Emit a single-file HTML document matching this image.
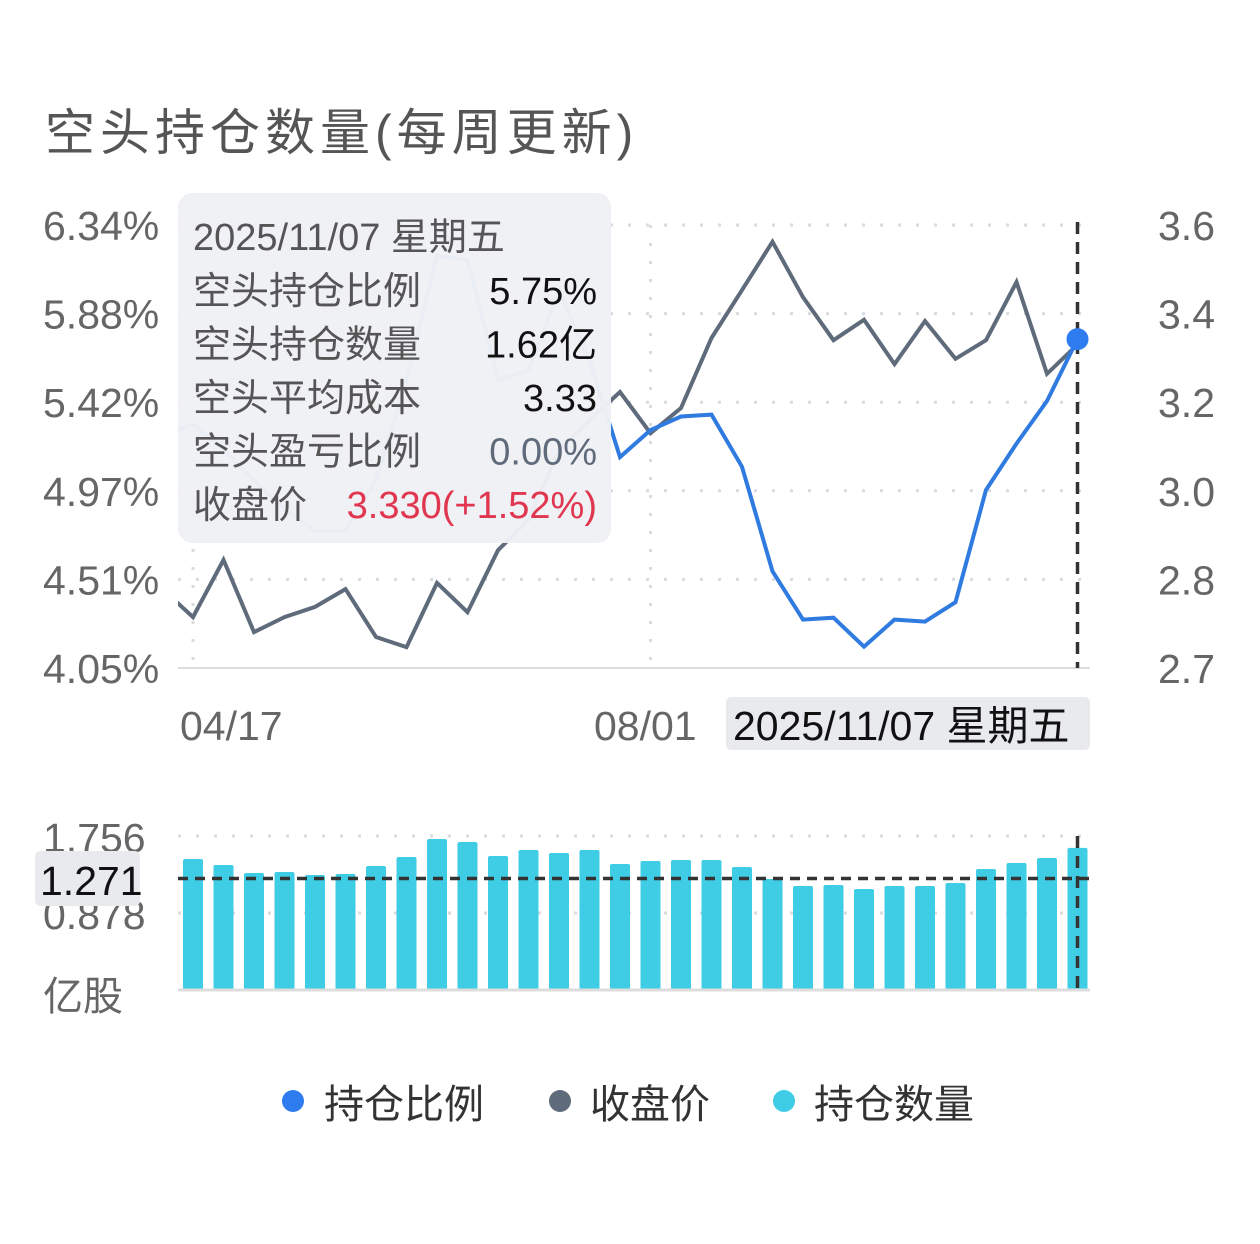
<!DOCTYPE html>
<html><head><meta charset="utf-8">
<style>
body{margin:0;background:#fff;width:1260px;height:1239px;overflow:hidden;font-family:"Liberation Sans","Noto Sans CJK SC",sans-serif;}
svg text{font-family:"Liberation Sans","Noto Sans CJK SC",sans-serif;}
</style></head>
<body>
<svg id="chart" width="1260" height="1239" xmlns="http://www.w3.org/2000/svg">
<text x="45" y="150" font-size="50" fill="#555" letter-spacing="5">空头持仓数量(每周更新)</text>
<g id="main"></g>
<g id="bars"></g>
<g>
  <circle cx="293" cy="1101" r="11" fill="#2f7bf0"/>
  <text x="324" y="1118" font-size="40" fill="#333">持仓比例</text>
  <circle cx="560" cy="1101" r="11" fill="#5f6b7a"/>
  <text x="590" y="1118" font-size="40" fill="#333">收盘价</text>
  <circle cx="784" cy="1101" r="11" fill="#3fcde6"/>
  <text x="814" y="1118" font-size="40" fill="#333">持仓数量</text>
</g>
</svg>
<script>
// data (first point index -1 is clipped at plot left edge)
const ratioValues=[5.25,5.31,5.18,5.02,4.87,4.76,4.76,5.02,5.54,6.18,6.16,5.54,5.59,6.00,5.64,5.14,5.28,5.35,5.36,5.09,4.55,4.30,4.31,4.16,4.30,4.29,4.39,4.97,5.21,5.43,5.75];
const priceValues=[2.778,2.715,2.844,2.681,2.715,2.738,2.778,2.670,2.647,2.792,2.726,2.866,2.934,3.092,3.160,3.223,3.130,3.187,3.345,3.453,3.562,3.437,3.340,3.386,3.286,3.383,3.298,3.340,3.471,3.264,3.33];
const quantityValues=[1.494,1.425,1.334,1.345,1.311,1.323,1.414,1.517,1.722,1.688,1.528,1.596,1.562,1.596,1.437,1.471,1.482,1.482,1.402,1.266,1.186,1.197,1.152,1.186,1.186,1.220,1.380,1.448,1.505,1.62];
const leftTicks=["6.34%","5.88%","5.42%","4.97%","4.51%","4.05%"];
const rightTicks=["3.6","3.4","3.2","3.0","2.8","2.7"];
const xLabels=[{i:0,t:"04/17"},{i:15,t:"08/01"}];
const barTicks=[1.756,0.878];
const avgQuantity=1.271;

const NS="http://www.w3.org/2000/svg";
function mk(tag,attrs,parent){const e=document.createElementNS(NS,tag);for(const k in attrs)e.setAttribute(k,attrs[k]);parent.appendChild(e);return e;}
const main=document.getElementById('main'), barsG=document.getElementById('bars');
const X0=178,X1=1090,YT=225,YB=668;
const xAt=i=>193+30.5*i;
const yRatio=v=>YT+(6.34-v)/(6.34-4.05)*(YB-YT);
const yPrice=v=>YT+(3.6-v)/0.2*88.6;
const defs=mk('defs',{},main);
const cp=mk('clipPath',{id:'plotclip'},defs);
mk('rect',{x:X0,y:150,width:X1-X0,height:YB-150},cp);
for(let k=0;k<6;k++){
  const y=YT+k*(YB-YT)/5;
  if(k<5){const g=mk('line',{x1:X0,x2:X1,y1:y,y2:y,stroke:'#d8dbe0','stroke-width':3,'stroke-dasharray':'3 15'},main);
  }
  const lt=mk('text',{x:43,y:y+15,'font-size':41,fill:'#666'},main);lt.textContent=leftTicks[k];
  
  const rt=mk('text',{x:1158,y:y+15,'font-size':41,fill:'#666'},main);rt.textContent=rightTicks[k];
  
}
xLabels.forEach(l=>{
  const x=xAt(l.i);
  const v=mk('line',{x1:x,x2:x,y1:YT,y2:YB,stroke:'#d8dbe0','stroke-width':3,'stroke-dasharray':'3 15'},main);
  
});
const base=mk('line',{x1:X0,x2:X1,y1:YB,y2:YB,stroke:'#ddd','stroke-width':2},main);

const xl1=mk('text',{x:180,y:740,'font-size':41,fill:'#666'},main);xl1.textContent=xLabels[0].t;

const xl2=mk('text',{x:594,y:740,'font-size':41,fill:'#666'},main);xl2.textContent=xLabels[1].t;

function pathFor(vals,fy){return vals.map((v,j)=>(j?'L':'M')+xAt(j-1).toFixed(1)+' '+fy(v).toFixed(1)).join(' ');}
const pl=mk('path',{d:pathFor(priceValues,yPrice),fill:'none',stroke:'#5f6b7a','stroke-width':4,'clip-path':'url(#plotclip)'},main);

const rl=mk('path',{d:pathFor(ratioValues,yRatio),fill:'none',stroke:'#2f7be0','stroke-width':4,'clip-path':'url(#plotclip)'},main);

const last=ratioValues.length-1;
const cross=mk('line',{x1:xAt(last-1),x2:xAt(last-1),y1:222,y2:YB,stroke:'#333','stroke-width':3.5,'stroke-dasharray':'12 8'},main);

const dot=mk('circle',{cx:xAt(last-1),cy:yRatio(ratioValues[last]),r:11,fill:'#2f7bf0'},main);

const db=mk('rect',{x:726,y:697,width:364,height:53,rx:5,fill:'#e8eaee'},main);

const dt=mk('text',{x:733,y:740,'font-size':41,fill:'#111'},main);dt.textContent='2025/11/07 星期五';

const tg=mk('g',{},main);

mk('rect',{x:178,y:193,width:433,height:350,rx:14,fill:'rgba(240,241,245,0.97)'},tg);
const rows=[["空头持仓比例","5.75%","#111"],["空头持仓数量","1.62亿","#111"],["空头平均成本","3.33","#111"],["空头盈亏比例","0.00%","#5f6b7a"],["收盘价","3.330(+1.52%)","#e0364f"]];
const tt=mk('text',{x:193,y:250,'font-size':38,fill:'#555'},tg);tt.textContent='2025/11/07 星期五';

rows.forEach((r,k)=>{
  const y=304+k*53.5;
  const a=mk('text',{x:193,y:y,'font-size':38,fill:'#555'},tg);a.textContent=r[0];
  
  const b=mk('text',{x:597,y:y,'font-size':38,fill:r[2],'text-anchor':'end'},tg);b.textContent=r[1];
  
});
const BB=990,BT=836;
const yQ=v=>BB-v/1.756*(BB-BT);
barTicks.forEach(t=>{
  const y=yQ(t);
  const g=mk('line',{x1:X0,x2:X1,y1:y,y2:y,stroke:'#d8dbe0','stroke-width':3,'stroke-dasharray':'3 15'},barsG);
  
  const tx=mk('text',{x:43,y:y+16,'font-size':41,fill:'#666'},barsG);tx.textContent=t.toFixed(3);
  
});
quantityValues.forEach((v,i)=>{
  const b=mk('rect',{x:xAt(i)-10,y:yQ(v),width:20,height:BB-yQ(v),rx:2,fill:'#3fcde6'},barsG);
  
});
const bb=mk('line',{x1:X0,x2:X1,y1:BB,y2:BB,stroke:'#ddd','stroke-width':3},barsG);

const av=mk('line',{x1:X0,x2:X1,y1:yQ(avgQuantity),y2:yQ(avgQuantity),stroke:'#333','stroke-width':3.5,'stroke-dasharray':'10 7'},barsG);

const bc=mk('line',{x1:xAt(29),x2:xAt(29),y1:836,y2:BB,stroke:'#333','stroke-width':3.5,'stroke-dasharray':'12 8'},barsG);

const ab=mk('rect',{x:35,y:851,width:105,height:55,rx:5,fill:'#e8eaee'},barsG);

const at=mk('text',{x:40,y:895,'font-size':41,fill:'#111'},barsG);at.textContent=avgQuantity.toFixed(3);

const unit=mk('text',{x:43,y:1010,'font-size':40,fill:'#666'},barsG);unit.textContent='亿股';

</script>
</body></html>
